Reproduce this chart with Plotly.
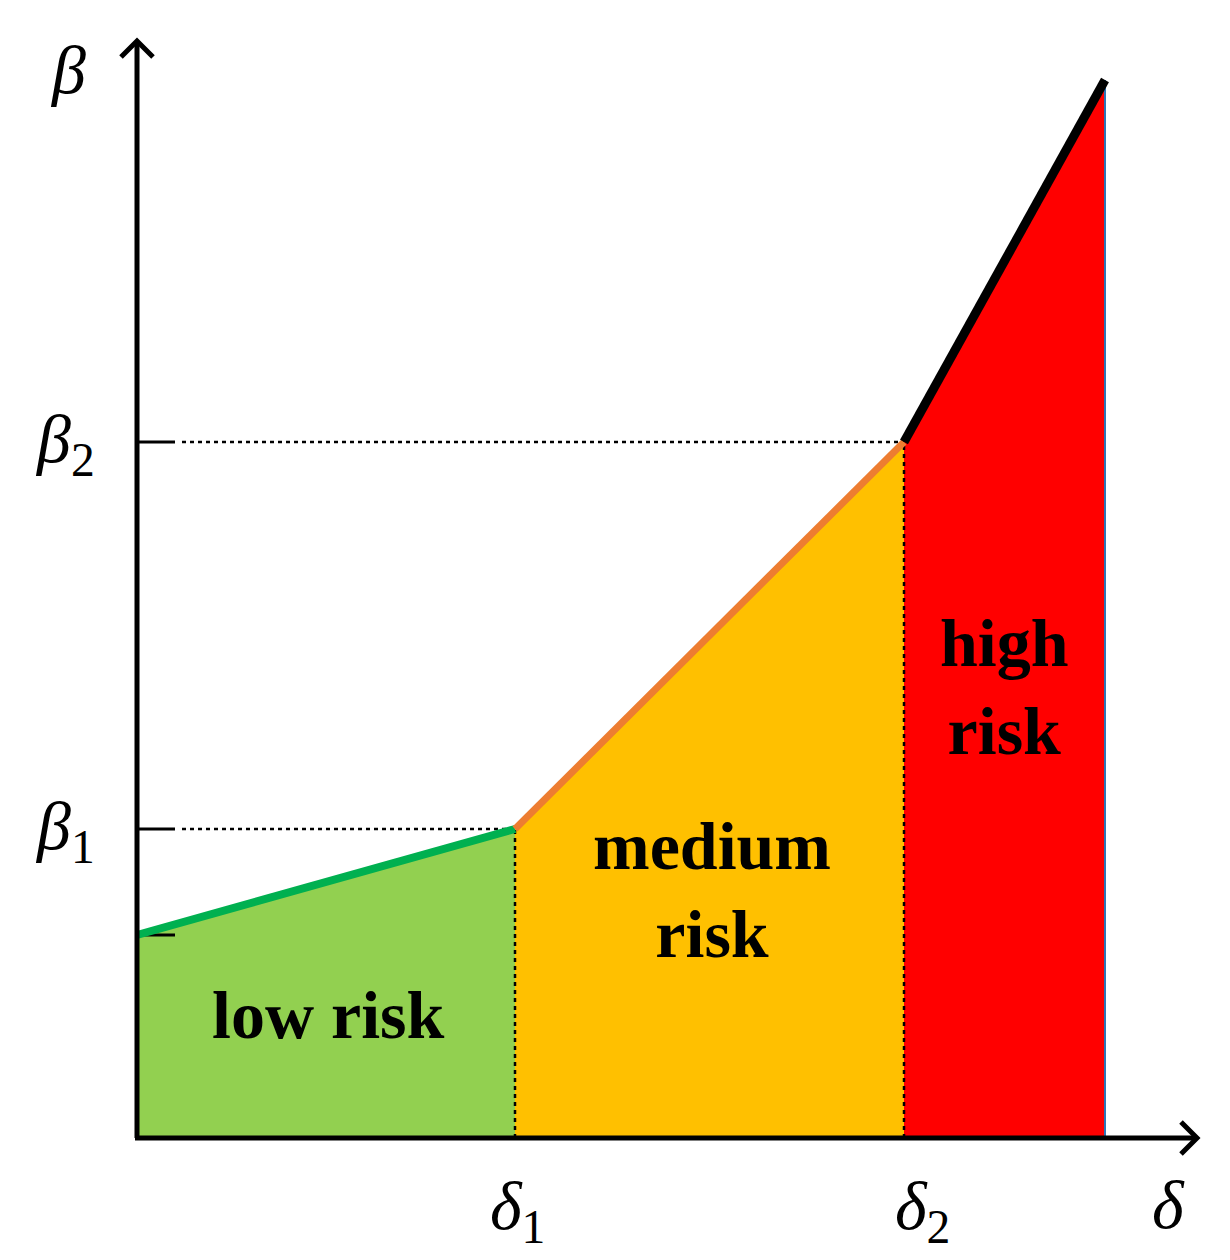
import plotly.graph_objects as go

# key points of the risk curve (data units)
x_start, y_start = 0.0, 2.03
delta1, beta1 = 3.78, 3.09
delta2, beta2 = 7.67, 6.96
x_end, y_end = 9.68, 10.58

zone_names = ["low risk", "medium<br>risk", "high<br>risk"]
fill_colors = ["#92D050", "#FFC000", "#FF0000"]
line_colors = ["#00B050", "#ED7D31", "#000000"]

fig = go.Figure()

# filled zones
zones = [
    ([x_start, x_start, delta1, delta1], [0, y_start, beta1, 0]),
    ([delta1, delta1, delta2, delta2], [0, beta1, beta2, 0]),
    ([delta2, delta2, x_end, x_end], [0, beta2, y_end, 0]),
]
for (xs, ys), c in zip(zones, fill_colors):
    fig.add_trace(go.Scatter(x=xs, y=ys, fill="toself", fillcolor=c,
                             line=dict(width=0), mode="lines", hoverinfo="skip"))

# thin blue edge on the right of the red zone
fig.add_trace(go.Scatter(x=[x_end, x_end], y=[0, y_end], mode="lines",
                         line=dict(color="#2E75B6", width=2)))

# dotted guide lines
dot = dict(color="black", width=2.5, dash="4px,4px")
fig.add_trace(go.Scatter(x=[0.45, delta1], y=[beta1, beta1], mode="lines", line=dot))
fig.add_trace(go.Scatter(x=[0.45, delta2], y=[beta2, beta2], mode="lines", line=dot))
fig.add_trace(go.Scatter(x=[delta1, delta1], y=[0, beta1], mode="lines", line=dot))
fig.add_trace(go.Scatter(x=[delta2, delta2], y=[0, beta2], mode="lines", line=dot))

# tick marks on the y axis
for yv in [y_start, beta1, beta2]:
    fig.add_trace(go.Scatter(x=[0, 0.38], y=[yv, yv], mode="lines",
                             line=dict(color="black", width=3)))

# curve segments
segs = [([x_start, delta1], [y_start, beta1], 8),
        ([delta1, delta2], [beta1, beta2], 7),
        ([delta2, x_end], [beta2, y_end], 9)]
for (xs, ys, w), c in zip(segs, line_colors):
    fig.add_trace(go.Scatter(x=xs, y=ys, mode="lines",
                             line=dict(color=c, width=w)))

# axes with open arrow heads
fig.add_trace(go.Scatter(x=[0, 0], y=[0, 10.97], mode="lines",
                         line=dict(color="black", width=5)))
fig.add_trace(go.Scatter(x=[-0.16, 0, 0.16], y=[10.81, 10.97, 10.81], mode="lines",
                         line=dict(color="black", width=5)))
fig.add_trace(go.Scatter(x=[-0.02, 10.6], y=[0, 0], mode="lines",
                         line=dict(color="black", width=5)))
fig.add_trace(go.Scatter(x=[10.44, 10.6, 10.44], y=[0.16, 0, -0.16], mode="lines",
                         line=dict(color="black", width=5)))

# zone labels
label_pos = [(1.91, 1.23), (5.75, 2.48), (8.67, 4.51)]
for name, (lx, ly) in zip(zone_names, label_pos):
    fig.add_annotation(x=lx, y=ly, text="<b>" + name + "</b>", showarrow=False,
                       font=dict(family="Liberation Serif", size=68, color="black"))

# axis symbols
greek = [
    (-0.69, 10.68, "<i>β</i>"),
    (-0.72, 6.95, "<i>β</i><sub>2</sub>"),
    (-0.72, 3.08, "<i>β</i><sub>1</sub>"),
    (3.8, -0.72, "<i>δ</i><sub>1</sub>"),
    (7.85, -0.72, "<i>δ</i><sub>2</sub>"),
    (10.31, -0.67, "<i>δ</i>"),
]
for gx, gy, t in greek:
    fig.add_annotation(x=gx, y=gy, text=t, showarrow=False,
                       font=dict(family="Liberation Serif", size=68, color="black"))

# the page adds an 8px body margin, so the figure is 8px smaller
fig.update_layout(
    width=1222, height=1252,
    margin=dict(l=0, r=0, t=0, b=0),
    paper_bgcolor="white", plot_bgcolor="white",
    showlegend=False,
    xaxis=dict(range=[-1.29, 10.93], visible=False, fixedrange=True),
    yaxis=dict(range=[-1.22, 11.30], visible=False, fixedrange=True),
)

fig.write_html("out.html")
